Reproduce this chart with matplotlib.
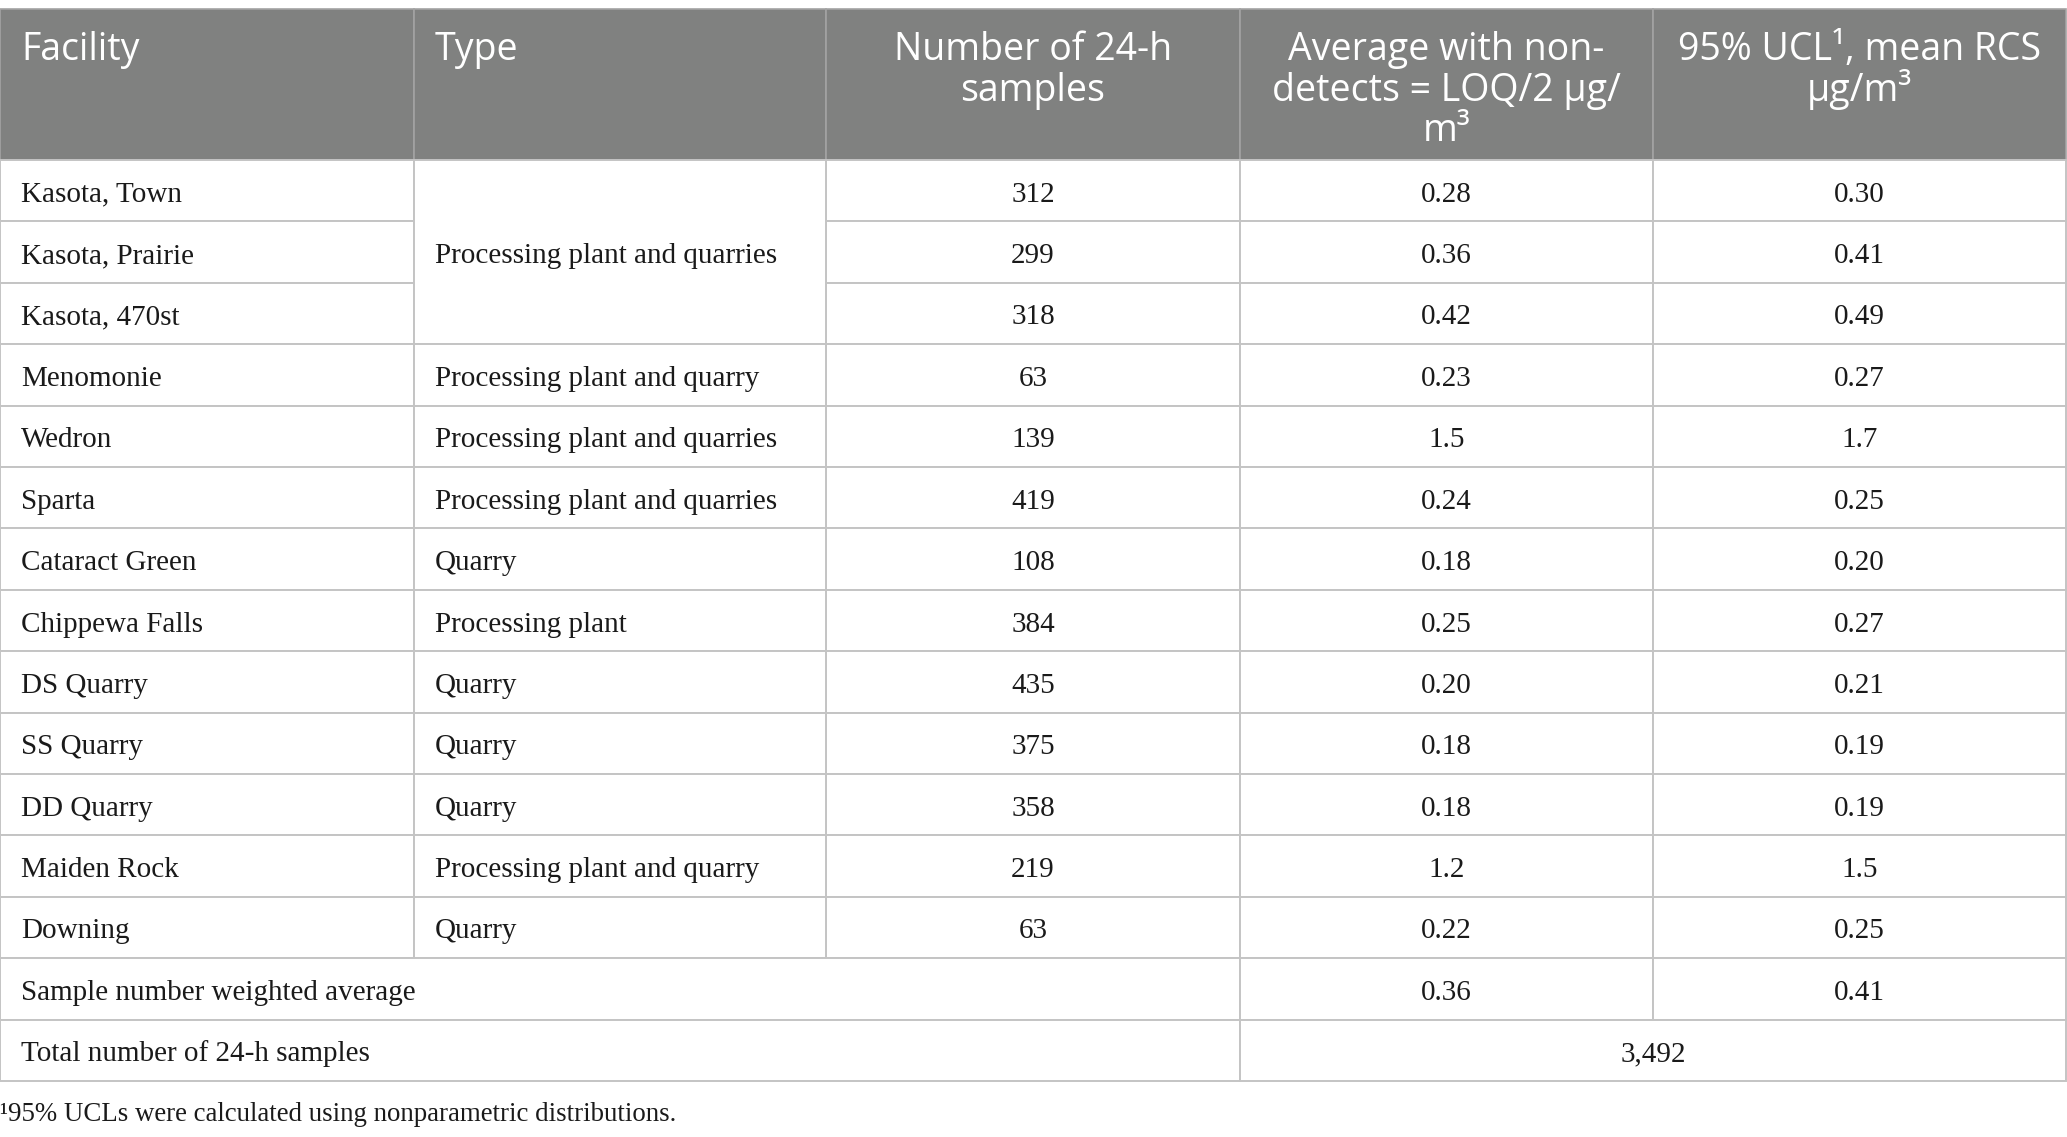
import matplotlib.pyplot as plt
import matplotlib.patches as mpatches

# ---- table content ----
header_lines = [
    ["Facility"],
    ["Type"],
    ["Number of 24-h", "samples"],
    ["Average with non-", "detects = LOQ/2 \u03bcg/", "m\u00b3"],
    ["95% UCL\u00b9, mean RCS", "\u03bcg/m\u00b3"],
]
header_align = ["left", "left", "center", "center", "center"]

facilities = ["Kasota, Town", "Kasota, Prairie", "Kasota, 470st", "Menomonie",
              "Wedron", "Sparta", "Cataract Green", "Chippewa Falls",
              "DS Quarry", "SS Quarry", "DD Quarry", "Maiden Rock", "Downing"]
# (type label, number of rows it spans)
type_spans = [("Processing plant and quarries", 3),
              ("Processing plant and quarry", 1),
              ("Processing plant and quarries", 1),
              ("Processing plant and quarries", 1),
              ("Quarry", 1),
              ("Processing plant", 1),
              ("Quarry", 1),
              ("Quarry", 1),
              ("Quarry", 1),
              ("Processing plant and quarry", 1),
              ("Quarry", 1)]
n_samples = ["312", "299", "318", "63", "139", "419", "108", "384",
             "435", "375", "358", "219", "63"]
avg_loq2 = ["0.28", "0.36", "0.42", "0.23", "1.5", "0.24", "0.18", "0.25",
            "0.20", "0.18", "0.18", "1.2", "0.22"]
ucl95 = ["0.30", "0.41", "0.49", "0.27", "1.7", "0.25", "0.20", "0.27",
         "0.21", "0.19", "0.19", "1.5", "0.25"]
weighted_label = "Sample number weighted average"
weighted_avg = "0.36"
weighted_ucl = "0.41"
total_label = "Total number of 24-h samples"
total_samples = "3,492"
footnote = "\u00b995% UCLs were calculated using nonparametric distributions."

# ---- layout (pixels) ----
W, H = 2067, 1137
col_x = [0, 414, 826, 1240, 1653, 2066]
head_top, head_bot = 9, 160
n_rows = len(facilities) + 2
row_h = (1081 - head_bot) / n_rows
pad = 21

HEAD_BG = "#808180"
HEAD_EDGE = "#a3a3a3"
GRID = "#c4c4c4"
TXT = "#1a1a1a"
SERIF = "Liberation Serif"
SANS = "Open Sans"

fig = plt.figure(figsize=(W / 100, H / 100), dpi=100)
ax = fig.add_axes([0, 0, 1, 1])
ax.set_xlim(0, W)
ax.set_ylim(H, 0)
ax.axis("off")


def row_top(r):
    return head_bot + r * row_h


def cell(r, c, text, rspan=1, cspan=1, align="center"):
    x0, x1 = col_x[c], col_x[c + cspan]
    y0 = row_top(r)
    h = rspan * row_h
    ax.add_patch(mpatches.Rectangle((x0, y0), x1 - x0, h, facecolor="white",
                                    edgecolor=GRID, linewidth=1.4, zorder=1))
    tx = x0 + pad if align == "left" else (x0 + x1) / 2
    ax.text(tx, y0 + h / 2 + 11, text, ha=align, va="baseline",
            fontsize=21, family=SERIF, color=TXT, zorder=3)


# header
for c, lines in enumerate(header_lines):
    x0, x1 = col_x[c], col_x[c + 1]
    ax.add_patch(mpatches.Rectangle((x0, head_top), x1 - x0, head_bot - head_top,
                                    facecolor=HEAD_BG, edgecolor=HEAD_EDGE,
                                    linewidth=1.2, zorder=1))
    tx = x0 + pad if header_align[c] == "left" else (x0 + x1) / 2
    for i, line in enumerate(lines):
        ax.text(tx, 60 + i * 40.5, line, ha=header_align[c], va="baseline",
                fontsize=27, family=SANS, color="white", zorder=3)

# body rows
for r, name in enumerate(facilities):
    cell(r, 0, name, align="left")
    cell(r, 2, n_samples[r])
    cell(r, 3, avg_loq2[r])
    cell(r, 4, ucl95[r])

r = 0
for label, span in type_spans:
    cell(r, 1, label, rspan=span, align="left")
    r += span

r = len(facilities)
cell(r, 0, weighted_label, cspan=3, align="left")
cell(r, 3, weighted_avg)
cell(r, 4, weighted_ucl)
cell(r + 1, 0, total_label, cspan=3, align="left")
cell(r + 1, 3, total_samples, cspan=2)

ax.text(0, 1121, footnote, ha="left", va="baseline", fontsize=19.4,
        family=SERIF, color=TXT)

fig.savefig("out.png", dpi=100)
